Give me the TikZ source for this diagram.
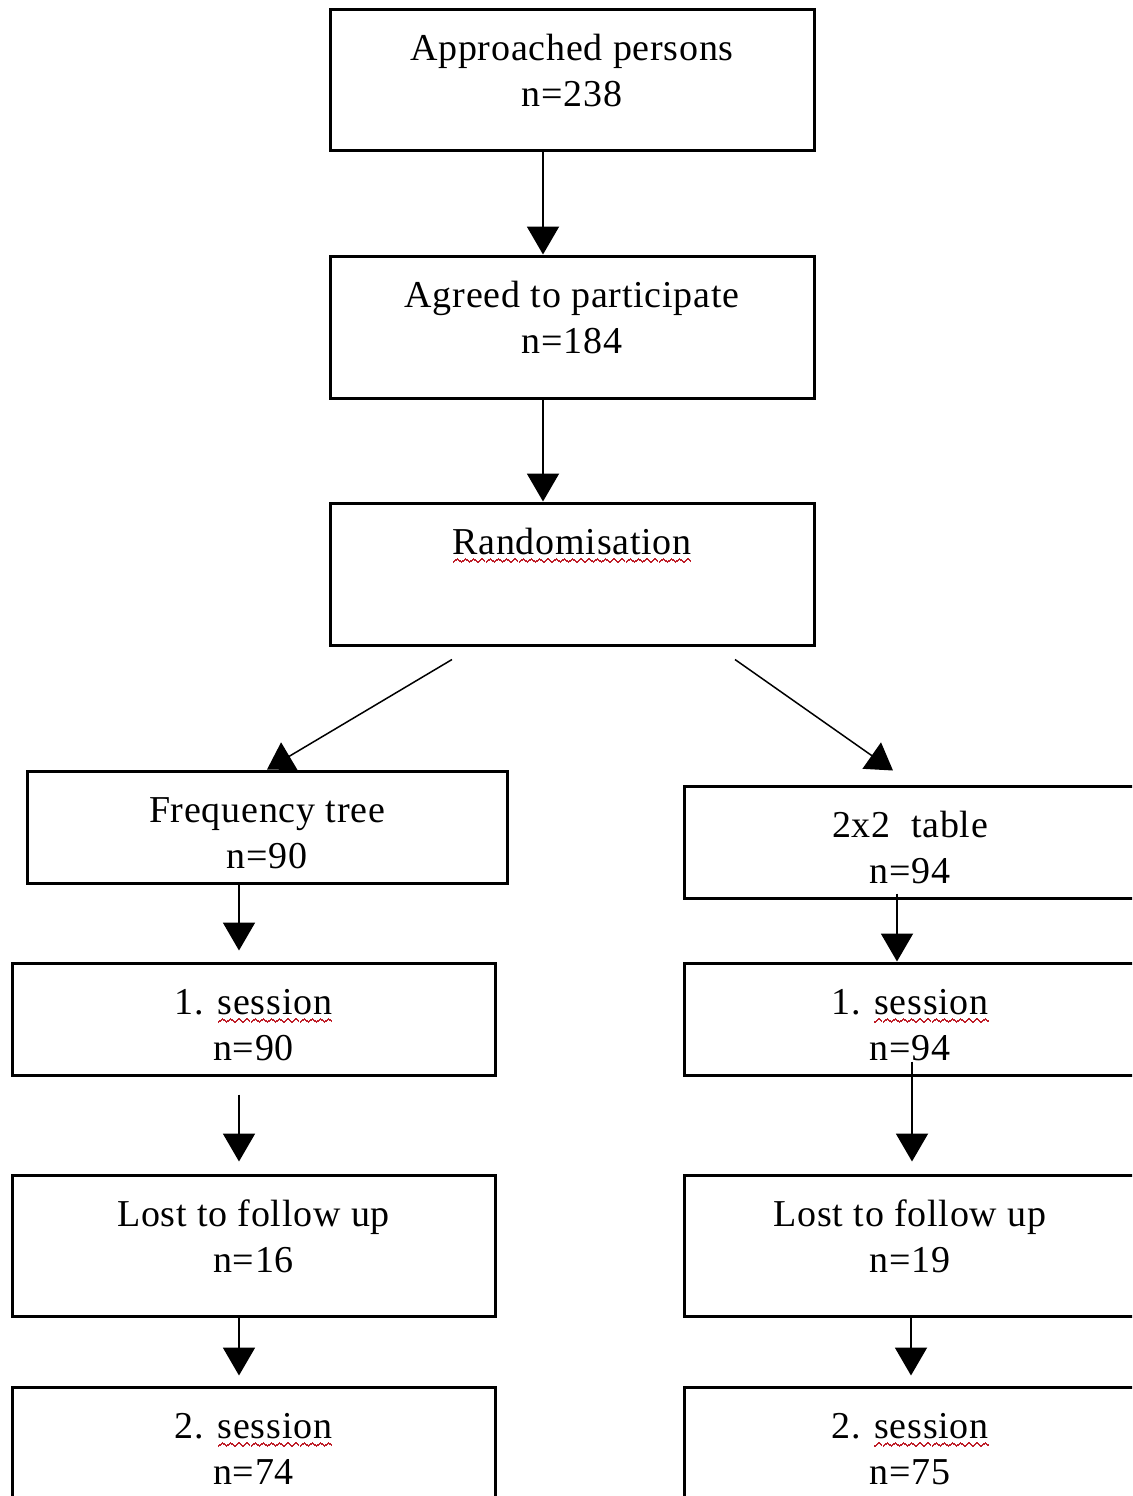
\documentclass[tikz,border=0pt]{standalone}
\usepackage{fontspec}
\setmainfont{Liberation Serif}[LetterSpace=2]
\usetikzlibrary{arrows.meta,positioning}
\definecolor{spellred}{RGB}{190,30,40}
\newcommand{\wavebit}{\rule[0pt]{0.67pt}{1pt}\rule[0.5pt]{0.67pt}{1pt}\rule[1pt]{0.67pt}{1pt}\rule[1.5pt]{0.67pt}{1pt}\rule[1pt]{0.67pt}{1pt}\rule[0.5pt]{0.67pt}{1pt}}
\newcommand{\spellwave}[1]{\setbox0\hbox{#1}\rlap{\raisebox{-4.5pt}[0pt][0pt]{\color{spellred}\hbox to\wd0{\xleaders\hbox{\wavebit}\hfil}}}\box0}
\newcommand{\boxtext}[2]{\parbox[c][#1][t]{225pt}{\centering\rule{0pt}{25.5pt}#2}}

\begin{document}
\begin{tikzpicture}[x=0.5pt,y=-0.5pt,
    font=\fontsize{19}{23}\selectfont,
    flowbox/.style={draw, line width=1.5pt, inner sep=0pt, minimum width=#1},
    flowarrow/.style={line width=1pt, -{Triangle[width=16pt,length=14pt]}},
    splitarrow/.style={line width=0.75pt, -{Triangle[width=16pt,length=13pt]}}]
    \clip (0,0) rectangle (1132,1496);
    \useasboundingbox (0,0) rectangle (1132,1496);

    \node[flowbox=242pt] (approached) at (572,79.5) {\boxtext{70.5pt}{Approached persons\\n=238}};
    \node[flowbox=242pt] (agreed) at (572,327) {\boxtext{71pt}{Agreed to participate\\n=184}};
    \node[flowbox=242pt] (random) at (572,574) {\boxtext{71pt}{\spellwave{Randomisation}}};

    \node[flowbox=240pt] (freqtree) at (267,827) {\boxtext{56pt}{Frequency tree\\n=90}};
    \node[flowbox=241.5pt] (sessonel) at (253.5,1019) {\boxtext{56pt}{1. \spellwave{session}\\n=90}};
    \node[flowbox=241.5pt] (lostl) at (253.5,1245.5) {\boxtext{70.5pt}{Lost to follow up\\n=16}};
    \node[flowbox=241.5pt] (sesstwol) at (253.5,1443) {\boxtext{56pt}{2. \spellwave{session}\\n=74}};

    \node[flowbox=226pt] (table) at (910,842) {\boxtext{56pt}{2x2\ \ table\\n=94}};
    \node[flowbox=226pt] (sessoner) at (910,1019) {\boxtext{56pt}{1. \spellwave{session}\\n=94}};
    \node[flowbox=226pt] (lostr) at (910,1245.5) {\boxtext{70.5pt}{Lost to follow up\\n=19}};
    \node[flowbox=226pt] (sesstwor) at (910,1443) {\boxtext{56pt}{2. \spellwave{session}\\n=75}};

    \coordinate (splitl) at ([xshift=-60pt,yshift=-6.5pt]random.south);
    \coordinate (splitr) at ([xshift=81.5pt,yshift=-6.5pt]random.south);

    \draw[flowarrow] ([xshift=-14.5pt]approached.south) -- ([xshift=-14.5pt]agreed.north);
    \draw[flowarrow] ([xshift=-14.5pt]agreed.south) -- ([xshift=-14.5pt]random.north);
    \draw[splitarrow] (splitl) -- (freqtree.north);
    \draw[splitarrow] (splitr) -- ([xshift=-8.5pt,yshift=7pt]table.north);

    \draw[flowarrow] ([xshift=-14pt]freqtree.south) -- ([xshift=-7.25pt,yshift=5.5pt]sessonel.north);
    \draw[flowarrow] ([xshift=-7.25pt,yshift=-9pt]sessonel.south) -- ([xshift=-7.25pt,yshift=6pt]lostl.north);
    \draw[flowarrow] ([xshift=-7.25pt]lostl.south) -- ([xshift=-7.25pt,yshift=5pt]sesstwol.north);

    \draw[flowarrow] ([xshift=-6.5pt,yshift=3pt]table.south) -- ([xshift=-6.5pt]sessoner.north);
    \draw[flowarrow] ([xshift=1pt,yshift=7.5pt]sessoner.south) -- ([xshift=1pt,yshift=6pt]lostr.north);
    \draw[flowarrow] ([xshift=0.5pt]lostr.south) -- ([xshift=0.5pt,yshift=5pt]sesstwor.north);
\end{tikzpicture}
\end{document}
